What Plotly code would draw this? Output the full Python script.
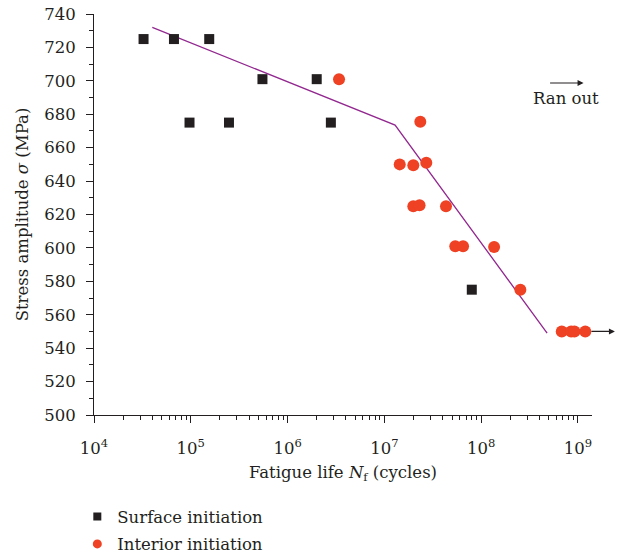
import numpy as np
import plotly.graph_objects as go

# Surface initiation (black squares)
surf_N = [3.25e4, 6.7e4, 1.55e5, 9.7e4, 2.48e5, 5.5e5, 2.0e6, 2.8e6, 8.0e7]
surf_S = [725, 725, 725, 675, 675, 701, 701, 675, 575]

# Interior initiation (red circles)
int_N = [3.4e6, 2.35e7, 1.44e7, 1.99e7, 2.71e7, 1.99e7, 2.31e7, 4.33e7,
         5.4e7, 6.5e7, 1.36e8, 2.54e8, 6.8e8, 8.5e8, 9.2e8, 1.19e9]
int_S = [701, 675.5, 650, 649.5, 651, 625, 625.5, 625,
         601, 601, 600.5, 575, 550, 550, 550, 550]

# Bilinear S-N fit line
fit_N = [4.0e4, 1.29e7, 4.8e8]
fit_S = [732, 673.5, 549]

x_tickvals = [1e4, 1e5, 1e6, 1e7, 1e8, 1e9]
x_ticktext = ["10<sup>4</sup>", "10<sup>5</sup>", "10<sup>6</sup>",
              "10<sup>7</sup>", "10<sup>8</sup>", "10<sup>9</sup>"]
x_minor = [k * 10 ** d for d in range(4, 9) for k in range(2, 10)]

FONT = "DejaVu Serif"
FS = 16.5
INK = "#231f20"
RED = "#ef4123"

fig = go.Figure()
fig.add_trace(go.Scatter(x=fit_N, y=fit_S, mode="lines",
                         line=dict(color="#92278f", width=1.3),
                         showlegend=False, hoverinfo="skip"))
fig.add_trace(go.Scatter(x=surf_N, y=surf_S, mode="markers",
                         name="Surface initiation", showlegend=False,
                         marker=dict(symbol="square", size=10, color=INK)))
fig.add_trace(go.Scatter(x=int_N, y=int_S, mode="markers",
                         name="Interior initiation", showlegend=False,
                         marker=dict(symbol="circle", size=12, color=RED)))
# legend entries (smaller symbols, as in the reference legend)
fig.add_trace(go.Scatter(x=[None], y=[None], mode="markers",
                         name="Surface initiation", legendgroup="a",
                         marker=dict(symbol="square", size=8, color=INK)))
fig.add_trace(go.Scatter(x=[None], y=[None], mode="markers",
                         name="Interior initiation", legendgroup="b",
                         marker=dict(symbol="circle", size=9, color=RED)))

# Run-out arrows
fig.add_annotation(x=9.058, y=698.7, xref="x", yref="y", ax=-35, ay=0,
                   axref="pixel", ayref="pixel", text="", showarrow=True,
                   arrowhead=2, arrowsize=1, arrowwidth=1.2, arrowcolor=INK)
fig.add_annotation(x=8.877, y=689.5, xref="x", yref="y", text="Ran out",
                   showarrow=False, font=dict(family=FONT, size=FS, color=INK))
# arrow past the right end of the axis, from the last run-out point
fig.add_annotation(x=1.046, y=550, xref="paper", yref="y", ax=-25, ay=0,
                   axref="pixel", ayref="pixel", text="", showarrow=True,
                   arrowhead=2, arrowsize=1, arrowwidth=1.2, arrowcolor=INK)

axis_common = dict(showline=True, linecolor=INK, linewidth=1,
                   ticks="outside", tickcolor=INK, tickwidth=1, ticklen=7,
                   showgrid=False, zeroline=False, automargin=False,
                   ticklabeloverflow="allow",
                   tickfont=dict(family=FONT, size=FS, color=INK))

fig.update_xaxes(type="log", range=[4, 9.145], tickmode="array",
                 tickvals=x_tickvals, ticktext=x_ticktext,
                 ticklabelstandoff=11,
                 minor=dict(ticks="outside", ticklen=4, tickcolor=INK,
                            tickmode="array", tickvals=x_minor, showgrid=False),
                 title=dict(text="Fatigue life <i>N</i><sub>f</sub> (cycles)",
                            font=dict(family=FONT, size=FS, color=INK),
                            standoff=9),
                 **axis_common)
fig.update_yaxes(range=[500, 740], tickmode="linear", tick0=500, dtick=20,
                 ticklabelstandoff=7,
                 minor=dict(ticks="outside", ticklen=4, tickcolor=INK,
                            dtick=10, showgrid=False),
                 title=dict(text="Stress amplitude <i>σ</i> (MPa)",
                            font=dict(family=FONT, size=FS, color=INK),
                            standoff=11),
                 **axis_common)

fig.update_layout(
    width=620, height=554,
    margin=dict(l=94, r=28, t=14, b=139, autoexpand=False),
    plot_bgcolor="white", paper_bgcolor="white",
    showlegend=True,
    legend=dict(x=-0.0335, y=-0.21, xanchor="left", yanchor="top",
                font=dict(family=FONT, size=FS, color=INK),
                traceorder="grouped", tracegroupgap=3,
                bgcolor="rgba(0,0,0,0)"),
)

# remove the default 8 px page margin so the figure sits at the window origin
fig.write_html("out.html", config={"displayModeBar": False},
               post_script="document.body.style.margin='0';")
